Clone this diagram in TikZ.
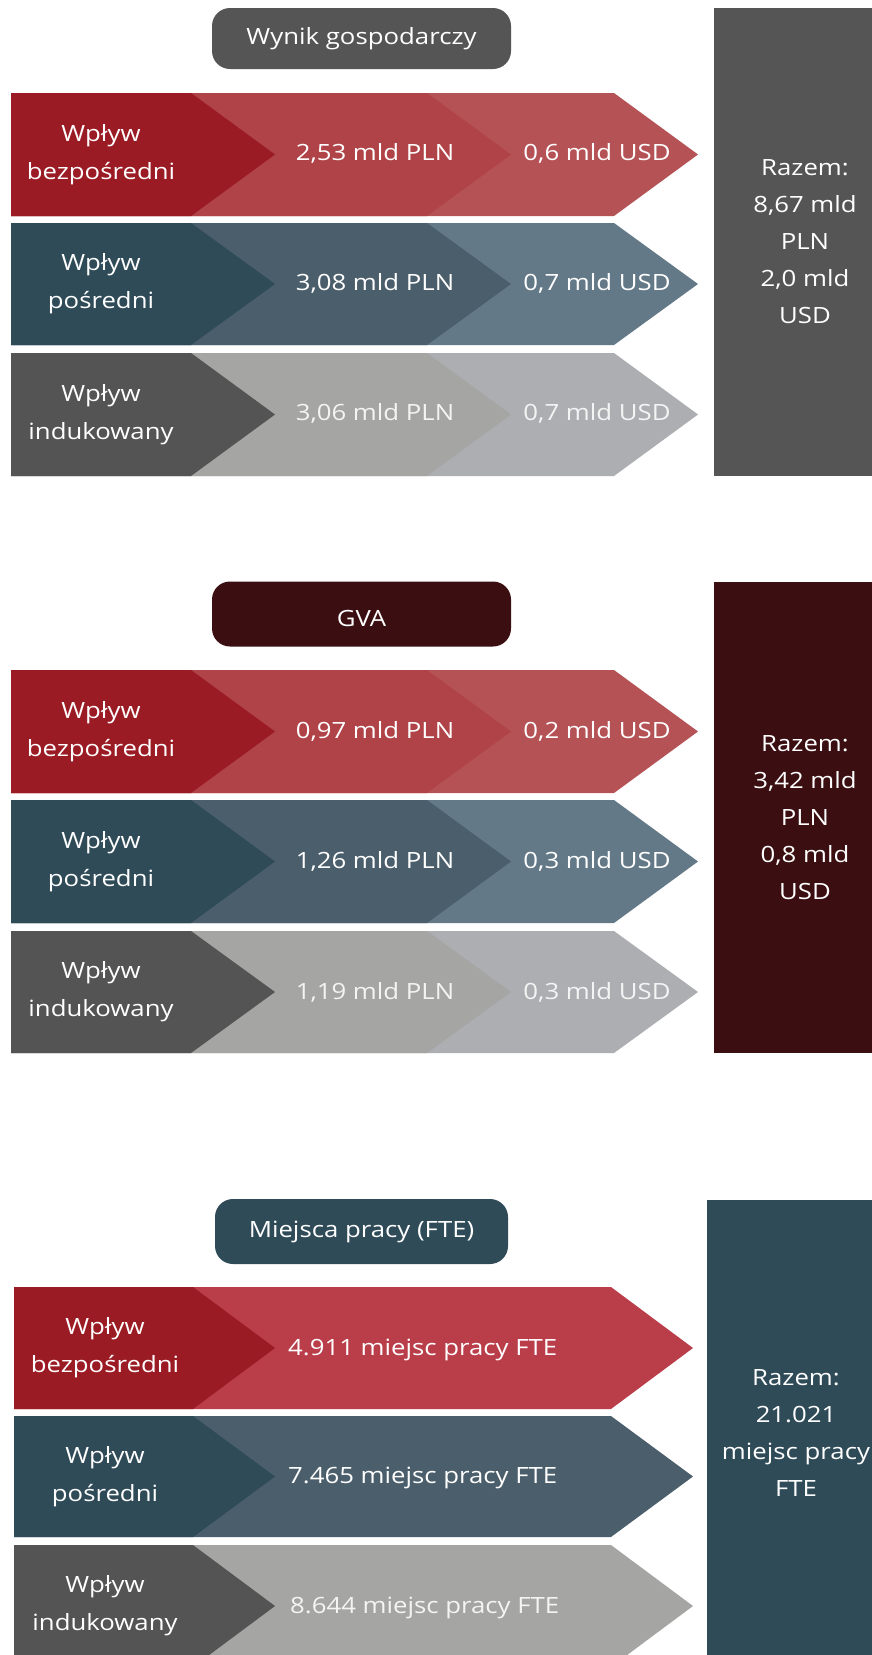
\documentclass[tikz,border=0pt]{standalone}
\usepackage{fontspec}
\setmainfont{Open Sans}[FakeStretch=1.15]
\definecolor{cgray}{HTML}{555555}
\definecolor{cmaroon}{HTML}{3B0F11}
\definecolor{cteal}{HTML}{2F4B58}
\definecolor{redA}{HTML}{9B1B24}
\definecolor{redB}{HTML}{B04347}
\definecolor{redC}{HTML}{B55256}
\definecolor{redD}{HTML}{BA3D4A}
\definecolor{bluA}{HTML}{2F4B58}
\definecolor{bluB}{HTML}{4B5E6B}
\definecolor{bluC}{HTML}{637987}
\definecolor{gryA}{HTML}{545454}
\definecolor{gryB}{HTML}{A5A5A4}
\definecolor{gryC}{HTML}{ADAEB2}
\definecolor{softw}{HTML}{F4F4F4}
\tikzset{
  txt/.style={text=white, inner sep=0pt, font=\fontsize{22.4}{38}\selectfont, align=center},
  txtl/.style={txt, text=softw},
  tot/.style={text=white, inner sep=0pt, font=\fontsize{22.4}{37}\selectfont, align=center},
  titlebox/.style={rounded corners=18pt, inner sep=0pt, text=white,
    font=\fontsize{22.4}{26}\selectfont, text height=16pt, text depth=5pt},
}
\newcommand\threerow[5]{%
  \pgfmathsetmacro\midy{(#1+#2)/2}
  \fill[#5] (11,#1) -- (614,#1) -- (698,\midy) -- (614,#2) -- (11,#2) -- cycle;
  \fill[#4] (11,#1) -- (427,#1) -- (511,\midy) -- (427,#2) -- (11,#2) -- cycle;
  \fill[#3] (11,#1) -- (191,#1) -- (275,\midy) -- (191,#2) -- (11,#2) -- cycle;
}
\newcommand\tworow[4]{%
  \pgfmathsetmacro\midy{(#1+#2)/2}
  \fill[#4] (14,#1) -- (611,#1) -- (693,\midy) -- (611,#2) -- (14,#2) -- cycle;
  \fill[#3] (14,#1) -- (193,#1) -- (275,\midy) -- (193,#2) -- (14,#2) -- cycle;
}
\begin{document}
\begin{tikzpicture}[x=1pt,y=-1pt]
\useasboundingbox (0,0) rectangle (872,1655);
\fill[white] (0,0) rectangle (872,1655);
\clip (0,0) rectangle (872,1655);

% ---------------- Section 1 ----------------
\node[titlebox, fill=cgray, minimum width=299pt, minimum height=61pt] (t1) at (361.5,38.5) {Wynik gospodarczy};
\fill[cgray] (714,8) rectangle (900,476);
\threerow{93}{216}{redA}{redB}{redC}
\threerow{223}{345}{bluA}{bluB}{bluC}
\threerow{353}{476}{gryA}{gryB}{gryC}
\node[txt] (a11) at (101,154.5) {Wpływ\\bezpośredni};
\node[txt, anchor=base] (a12) at (375,160) {2,53 mld PLN};
\node[txt, anchor=base] (a13) at (597,160) {0,6 mld USD};
\node[txt] (a21) at (101,284) {Wpływ\\pośredni};
\node[txt, anchor=base] (a22) at (375,290) {3,08 mld PLN};
\node[txt, anchor=base] (a23) at (597,290) {0,7 mld USD};
\node[txt] (a31) at (101,414.5) {Wpływ\\indukowany};
\node[txtl, anchor=base] (a32) at (375,420.5) {3,06 mld PLN};
\node[txtl, anchor=base] (a33) at (597,420.5) {0,7 mld USD};
\node[tot] (s1) at (805,241.5) {Razem:\\8,67 mld\\PLN\\2,0 mld\\USD};

% ---------------- Section 2 ----------------
\node[titlebox, fill=cmaroon, minimum width=299pt, minimum height=65pt] (t2) at (361.5,614) {};
\node[text=white, inner sep=0pt, font=\fontsize{22.4}{26}\selectfont, anchor=base] (t2l) at (361.5,626) {GVA};
\fill[cmaroon] (714,582) rectangle (900,1053);
\threerow{670}{793}{redA}{redB}{redC}
\threerow{800}{923}{bluA}{bluB}{bluC}
\threerow{931}{1053}{gryA}{gryB}{gryC}
\node[txt] (b11) at (101,731.5) {Wpływ\\bezpośredni};
\node[txt, anchor=base] (b12) at (375,738.5) {0,97 mld PLN};
\node[txt, anchor=base] (b13) at (597,738.5) {0,2 mld USD};
\node[txt] (b21) at (101,861.5) {Wpływ\\pośredni};
\node[txt, anchor=base] (b22) at (375,868.5) {1,26 mld PLN};
\node[txt, anchor=base] (b23) at (597,868.5) {0,3 mld USD};
\node[txt] (b31) at (101,992) {Wpływ\\indukowany};
\node[txtl, anchor=base] (b32) at (375,999) {1,19 mld PLN};
\node[txtl, anchor=base] (b33) at (597,999) {0,3 mld USD};
\node[tot] (s2) at (805,818) {Razem:\\3,42 mld\\PLN\\0,8 mld\\USD};

% ---------------- Section 3 ----------------
\node[titlebox, fill=cteal, minimum width=293pt, minimum height=65pt] (t3) at (361.5,1231.5) {Miejsca pracy (FTE)};
\fill[cteal] (707,1200) rectangle (900,1700);
\tworow{1287}{1409}{redA}{redD}
\tworow{1416}{1537}{bluA}{bluB}
\tworow{1545}{1667}{gryA}{gryB}
\node[txt] (c11) at (105,1348) {Wpływ\\bezpośredni};
\node[txt, anchor=base west] (c12) at (288,1355) {4.911 miejsc pracy FTE};
\node[txt] (c21) at (105,1476.5) {Wpływ\\pośredni};
\node[txt, anchor=base west] (c22) at (288,1483.5) {7.465 miejsc pracy FTE};
\node[txt] (c31) at (105,1606) {Wpływ\\indukowany};
\node[txtl, anchor=base west] (c32) at (290,1613) {8.644 miejsc pracy FTE};
\node[tot] (s3) at (796,1432.5) {Razem:\\21.021\\miejsc pracy\\FTE};
\end{tikzpicture}
\end{document}
